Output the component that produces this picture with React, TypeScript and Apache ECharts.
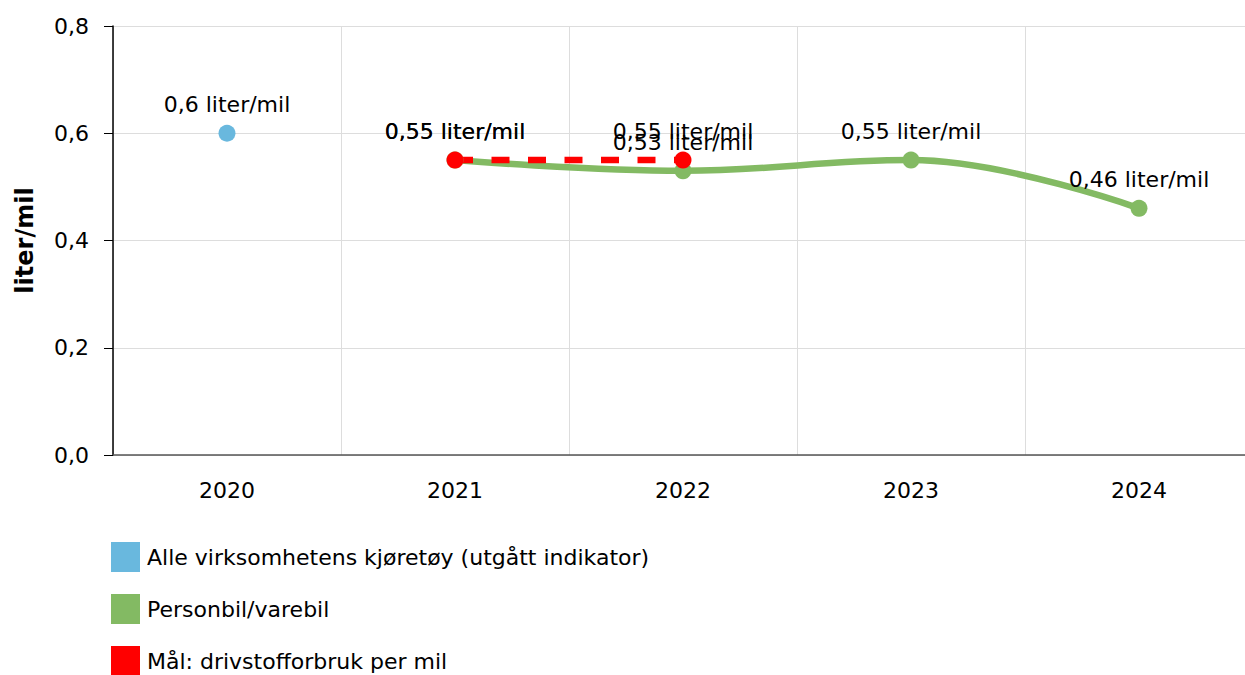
import React, { useEffect, useRef } from "react";
import * as echarts from "echarts";

const years = ["2020", "2021", "2022", "2023", "2024"];
const alleKjoretoy = [0.6, null, null, null, null];
const personbil = [null, 0.55, 0.53, 0.55, 0.46];
const maal = [null, 0.55, 0.55, null, null];
const seriesNames = [
  "Alle virksomhetens kjøretøy (utgått indikator)",
  "Personbil/varebil",
  "Mål: drivstofforbruk per mil",
];
const colors = ["#69b8de", "#83ba63", "#ff0000"];

const FONT = "DejaVu Sans, Verdana, sans-serif";

const fmt = (v: number) => String(v).replace(".", ",") + " liter/mil";

export default function App() {
  const ref = useRef<HTMLDivElement>(null);
  useEffect(() => {
    document.body.style.margin = "0";
    document.body.style.overflow = "hidden";
    const chart = echarts.init(ref.current!, null, { renderer: "svg" });
    const label = {
      show: true,
      position: "top",
      distance: 9,
      fontSize: 22,
      color: "#000",
      fontFamily: FONT,
      formatter: (p: any) => fmt(p.value),
    };
    chart.setOption({
      animation: false,
      textStyle: { fontFamily: FONT },
      grid: { left: 113, top: 26, bottom: 245, right: 7, containLabel: false },
      legend: {
        orient: "vertical",
        left: 111,
        top: 542,
        padding: 0,
        height: 200,
        itemWidth: 29,
        itemHeight: 30,
        itemGap: 22,
        icon: "rect",
        textStyle: { fontSize: 22, color: "#000", fontFamily: FONT, padding: [0, 0, 0, 2] },
        data: seriesNames,
      },
      xAxis: {
        type: "category",
        data: years,
        boundaryGap: true,
        axisLine: { lineStyle: { color: "#555", width: 1.5 } },
        axisTick: { alignWithLabel: true, length: 9, lineStyle: { color: "#aaa" } },
        axisLabel: { fontSize: 22, color: "#000", margin: 24, fontFamily: FONT },
        splitLine: { show: true, lineStyle: { color: "#ddd" } },
      },
      yAxis: {
        type: "value",
        min: 0,
        max: 0.8,
        interval: 0.2,
        name: "liter/mil",
        nameLocation: "middle",
        nameGap: 76,
        nameTextStyle: { fontSize: 24, fontWeight: "bold", color: "#000", fontFamily: FONT },
        axisLine: { show: true, lineStyle: { color: "#000", width: 1.5 } },
        axisTick: { show: true, length: 9, lineStyle: { color: "#000" } },
        axisLabel: {
          fontSize: 22,
          color: "#000",
          margin: 24,
          fontFamily: FONT,
          formatter: (v: number) => v.toFixed(1).replace(".", ","),
        },
        splitLine: { show: true, lineStyle: { color: "#ddd" } },
      },
      series: [
        {
          name: seriesNames[0],
          type: "line",
          data: alleKjoretoy,
          color: colors[0],
          symbol: "circle",
          symbolSize: 17,
          lineStyle: { width: 6.5 },
          label,
        },
        {
          name: seriesNames[1],
          type: "line",
          data: personbil,
          color: colors[1],
          smooth: 0.4,
          symbol: "circle",
          symbolSize: 17,
          lineStyle: { width: 6.5 },
          label,
        },
        {
          name: seriesNames[2],
          type: "line",
          data: maal,
          color: colors[2],
          symbol: "circle",
          symbolSize: 17,
          lineStyle: { width: 6.5, type: [18, 18.5] },
          label,
        },
      ],
    });
    return () => chart.dispose();
  }, []);
  return (
    <div style={{ width: 1245, height: 675, overflow: "hidden" }}>
      <div ref={ref} style={{ width: 1260, height: 700 }} />
    </div>
  );
}
